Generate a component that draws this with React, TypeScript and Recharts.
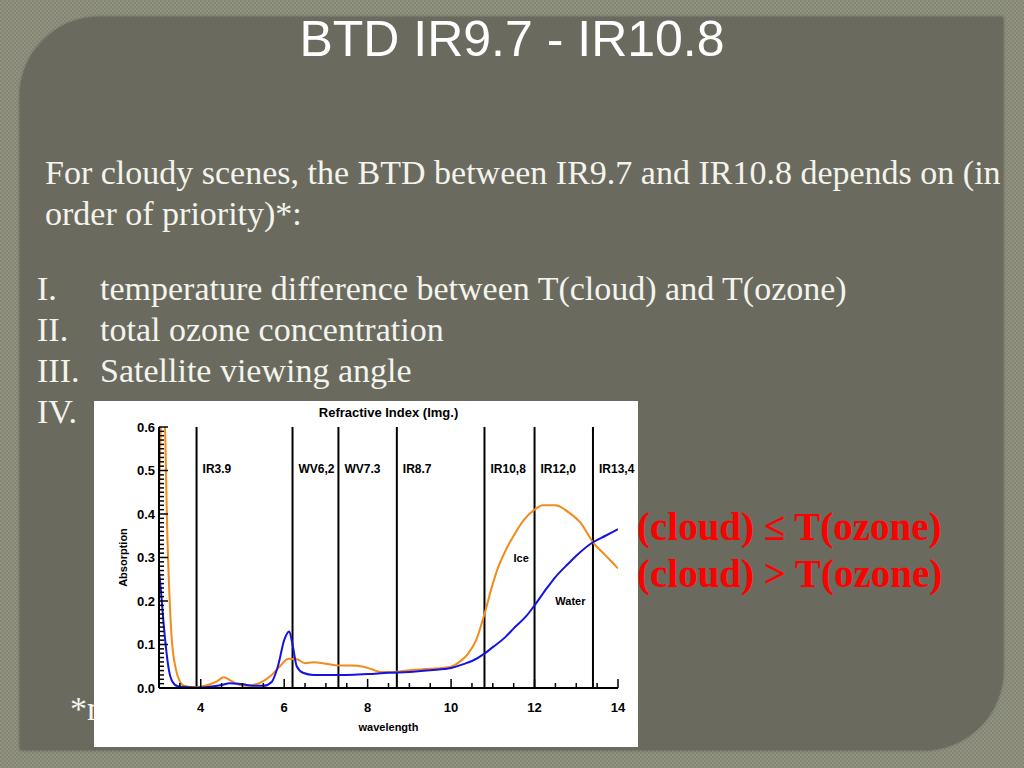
import { LineChart, Line, XAxis, YAxis, ReferenceLine, ReferenceDot } from "recharts";

// Ice and water absorption (imaginary refractive index)
const iceWavelength = [3.0, 3.06, 3.13, 3.2, 3.3, 3.4, 3.5, 3.6, 3.8, 4.0, 4.2, 4.4, 4.55, 4.7, 4.9, 5.1, 5.3, 5.5, 5.7, 5.9, 6.1, 6.3, 6.5, 6.7, 7.0, 7.3, 7.6, 7.9, 8.1, 8.3, 8.6, 9.0, 9.5, 10.0, 10.2, 10.4, 10.6, 10.8, 11.0, 11.1, 11.3, 11.5, 11.75, 12.0, 12.2, 12.5, 12.8, 13.1, 13.4, 13.7, 14.0];
const iceAbsorption = [0.43, 0.62, 0.62, 0.35, 0.12, 0.045, 0.015, 0.005, 0.002, 0.003, 0.008, 0.016, 0.025, 0.018, 0.008, 0.005, 0.008, 0.016, 0.03, 0.05, 0.067, 0.066, 0.057, 0.059, 0.056, 0.052, 0.052, 0.049, 0.043, 0.037, 0.037, 0.041, 0.044, 0.049, 0.06, 0.078, 0.11, 0.17, 0.24, 0.27, 0.315, 0.35, 0.387, 0.41, 0.42, 0.42, 0.405, 0.38, 0.335, 0.305, 0.275];

const waterWavelength = [3.0, 3.05, 3.1, 3.17, 3.24, 3.32, 3.45, 3.7, 4.0, 4.3, 4.5, 4.7, 4.9, 5.1, 5.3, 5.5, 5.7, 5.85, 6.0, 6.12, 6.2, 6.3, 6.45, 6.7, 7.0, 7.5, 8.0, 8.5, 9.0, 9.5, 10.0, 10.3, 10.5, 10.8, 11.0, 11.3, 11.5, 11.8, 12.0, 12.3, 12.5, 12.8, 13.0, 13.4, 13.7, 14.0];
const waterAbsorption = [0.27, 0.22, 0.16, 0.09, 0.04, 0.015, 0.004, 0.002, 0.001, 0.004, 0.007, 0.011, 0.01, 0.007, 0.005, 0.005, 0.014, 0.05, 0.11, 0.13, 0.1, 0.05, 0.035, 0.03, 0.03, 0.03, 0.032, 0.035, 0.037, 0.041, 0.046, 0.055, 0.062, 0.079, 0.094, 0.117, 0.137, 0.165, 0.19, 0.23, 0.255, 0.285, 0.304, 0.335, 0.35, 0.365];

// satellite channels drawn as vertical lines
const channelNames = ["IR3.9", "WV6,2", "WV7.3", "IR8.7", "IR10,8", "IR12,0", "IR13,4"];
const channelWavelength = [3.9, 6.2, 7.3, 8.7, 10.8, 12.0, 13.4];

const xMajorTicks = [4, 6, 8, 10, 12, 14];
const yMajorTicks = [0, 0.1, 0.2, 0.3, 0.4, 0.5, 0.6];

// minor tick positions (x every 0.5, y every 0.01)
const range = (from: number, to: number, step: number, digits: number) => {
  const out: number[] = [];
  const n = Math.round((to - from) / step);
  for (let i = 0; i <= n; i++) out.push(Number((from + i * step).toFixed(digits)));
  return out;
};
const xTicks = range(3, 14, 0.5, 1);
const yTicks = range(0, 0.6, 0.01, 2);

const iceData = iceWavelength.map((x, i) => ({ x, y: iceAbsorption[i] }));
const waterData = waterWavelength.map((x, i) => ({ x, y: waterAbsorption[i] }));

const FONT = "'Liberation Sans', Arial, sans-serif";
const isXMajor = (v: number) => xMajorTicks.includes(v);
const isYMajor = (v: number) => yMajorTicks.some((t) => Math.abs(t - v) < 1e-6);

const BottomTick = (props: any) => {
  const { x, y, payload } = props;
  const major = isXMajor(payload.value);
  return (
    <g>
      <line x1={x} y1={y} x2={x} y2={y - (major ? 9 : 5)} stroke="#000" strokeWidth={1.5} />
      {major && (
        <text x={x} y={y + 24} textAnchor="middle" fontSize={13} fontWeight="bold" fontFamily={FONT} fill="#000">
          {payload.value}
        </text>
      )}
    </g>
  );
};

const TopTick = (props: any) => {
  const { x, y, payload } = props;
  const major = isXMajor(payload.value);
  return <line x1={x} y1={y} x2={x} y2={y + (major ? 9 : 5)} stroke="#000" strokeWidth={1.5} />;
};

const LeftTick = (props: any) => {
  const { x, y, payload } = props;
  const major = isYMajor(payload.value);
  return (
    <g>
      <line x1={x} y1={y} x2={x + (major ? 9 : 5)} y2={y} stroke="#000" strokeWidth={1.5} />
      {major && (
        <text x={x - 4} y={y + 4.5} textAnchor="end" fontSize={13} fontWeight="bold" fontFamily={FONT} fill="#000">
          {payload.value.toFixed(1)}
        </text>
      )}
    </g>
  );
};

const RightTick = (props: any) => {
  const { x, y, payload } = props;
  const major = isYMajor(payload.value);
  return <line x1={x} y1={y} x2={x - (major ? 9 : 5)} y2={y} stroke="#000" strokeWidth={1.5} />;
};

const channelLabel = (name: string) => (props: any) => {
  const { viewBox } = props;
  return (
    <text x={viewBox.x + 6} y={viewBox.y + 46} fontSize={12} fontWeight="bold" fontFamily={FONT} fill="#000">
      {name}
    </text>
  );
};

const curveLabel = (name: string) => (props: any) => {
  const { viewBox } = props;
  return (
    <text x={viewBox.x} y={viewBox.y + 4} textAnchor="middle" fontSize={11} fontWeight="bold" fontFamily={FONT} fill="#000">
      {name}
    </text>
  );
};

const RefractiveChart = () => (
  <div style={{ position: "absolute", left: 94, top: 401, width: 544, height: 346, background: "#fff", zIndex: 2 }}>
    <div
      style={{
        position: "absolute",
        left: 65,
        width: 459,
        top: 4,
        textAlign: "center",
        fontFamily: FONT,
        fontWeight: "bold",
        fontSize: 13,
        color: "#000",
      }}
    >
      Refractive Index (Img.)
    </div>
    <LineChart width={544} height={346} margin={{ top: 26, right: 20, bottom: 0, left: 0 }}>
      <XAxis
        xAxisId="b"
        dataKey="x"
        type="number"
        domain={[3, 14]}
        allowDataOverflow
        ticks={xTicks}
        interval={0}
        tickSize={0}
        tickMargin={0}
        tickLine={false}
        tick={<BottomTick />}
        axisLine={{ stroke: "#000", strokeWidth: 2 }}
        height={59}
        label={{
          content: (p: any) => (
            <text
              x={p.viewBox.x + p.viewBox.width / 2}
              y={p.viewBox.y + 43}
              textAnchor="middle"
              fontSize={11}
              fontWeight="bold"
              fontFamily={FONT}
              fill="#000"
            >
              wavelength
            </text>
          ),
        }}
      />
      <XAxis
        xAxisId="t"
        orientation="top"
        dataKey="x"
        type="number"
        domain={[3, 14]}
        allowDataOverflow
        ticks={xTicks}
        interval={0}
        tickSize={0}
        tickMargin={0}
        tickLine={false}
        tick={<TopTick />}
        axisLine={{ stroke: "#000", strokeWidth: 2 }}
        height={0}
      />
      <YAxis
        yAxisId="l"
        type="number"
        domain={[0, 0.6]}
        allowDataOverflow
        ticks={yTicks}
        interval={0}
        tickSize={0}
        tickMargin={0}
        tickLine={false}
        tick={<LeftTick />}
        axisLine={{ stroke: "#000", strokeWidth: 2 }}
        width={65}
        label={{
          content: (p: any) => {
            const cx = p.viewBox.x + 33;
            const cy = p.viewBox.y + p.viewBox.height / 2;
            return (
              <text
                x={cx}
                y={cy}
                transform={`rotate(-90 ${cx} ${cy})`}
                textAnchor="middle"
                fontSize={11}
                fontWeight="bold"
                fontFamily={FONT}
                fill="#000"
              >
                Absorption
              </text>
            );
          },
        }}
      />
      <YAxis
        yAxisId="r"
        orientation="right"
        type="number"
        domain={[0, 0.6]}
        allowDataOverflow
        ticks={yTicks}
        interval={0}
        tickSize={0}
        tickMargin={0}
        tickLine={false}
        tick={<RightTick />}
        axisLine={{ stroke: "#000", strokeWidth: 2 }}
        width={0}
      />
      {channelWavelength.map((w, i) => (
        <ReferenceLine
          key={channelNames[i]}
          xAxisId="b"
          yAxisId="l"
          x={w}
          stroke="#000"
          strokeWidth={2}
          label={{ content: channelLabel(channelNames[i]) }}
        />
      ))}
      <Line
        xAxisId="b"
        yAxisId="l"
        data={iceData}
        dataKey="y"
        type="monotone"
        stroke="#f28a1c"
        strokeWidth={2}
        dot={false}
        isAnimationActive={false}
      />
      <Line
        xAxisId="t"
        yAxisId="r"
        data={waterData}
        dataKey="y"
        type="monotone"
        stroke="#1414e0"
        strokeWidth={2}
        dot={false}
        isAnimationActive={false}
      />
      <ReferenceDot xAxisId="b" yAxisId="l" x={11.68} y={0.3} r={0} fill="none" stroke="none" label={{ content: curveLabel("Ice") }} />
      <ReferenceDot xAxisId="b" yAxisId="l" x={12.86} y={0.2} r={0} fill="none" stroke="none" label={{ content: curveLabel("Water") }} />
    </LineChart>
  </div>
);

const serif = "'Liberation Serif', 'Times New Roman', serif";

export default function App() {
  const bodyText: React.CSSProperties = {
    position: "absolute",
    fontFamily: serif,
    fontSize: 34,
    lineHeight: "41px",
    color: "#f4f4ee",
    whiteSpace: "nowrap",
  };
  const items = ["temperature difference between T(cloud) and T(ozone)", "total ozone concentration", "Satellite viewing angle", ""];
  const numerals = ["I.", "II.", "III.", "IV."];
  return (
    <div
      style={{
        position: "absolute",
        left: 0,
        top: 0,
        width: 1024,
        height: 768,
        overflow: "hidden",
        backgroundColor: "#8b8d7b",
        backgroundImage: "repeating-conic-gradient(#909281 0 25%, #858774 0 50%)",
        backgroundSize: "4px 4px",
      }}
    >
      <div
        style={{
          position: "absolute",
          left: 20,
          top: 17,
          width: 983,
          height: 733,
          background: "#6a6b5e",
          borderTopLeftRadius: 80,
          borderBottomRightRadius: 80,
          boxShadow: "0 0 3px rgba(0,0,0,0.45)",
        }}
      />
      <div
        style={{
          position: "absolute",
          left: 0,
          width: 1024,
          top: 14,
          textAlign: "center",
          fontFamily: FONT,
          fontSize: 50,
          lineHeight: "50px",
          color: "#ffffff",
        }}
      >
        BTD IR9.7 - IR10.8
      </div>
      <div style={{ ...bodyText, left: 45, top: 152 }}>
        For cloudy scenes, the BTD between IR9.7 and IR10.8 depends on (in
        <br />
        order of priority)*:
      </div>
      {numerals.map((n, i) => (
        <div key={n}>
          <div style={{ ...bodyText, left: 37, top: 268 + i * 41 }}>{n}</div>
          <div style={{ ...bodyText, left: 100, top: 268 + i * 41 }}>{items[i]}</div>
        </div>
      ))}
      <div style={{ ...bodyText, left: 70, top: 688 }}>*n</div>
      <div
        style={{
          position: "absolute",
          left: 611,
          top: 503,
          fontFamily: serif,
          fontWeight: "bold",
          fontSize: 39,
          lineHeight: "47px",
          color: "#ff0000",
          whiteSpace: "nowrap",
        }}
      >
        T(cloud) ≤ T(ozone)
        <br />
        T(cloud) &gt; T(ozone)
      </div>
      <RefractiveChart />
    </div>
  );
}
